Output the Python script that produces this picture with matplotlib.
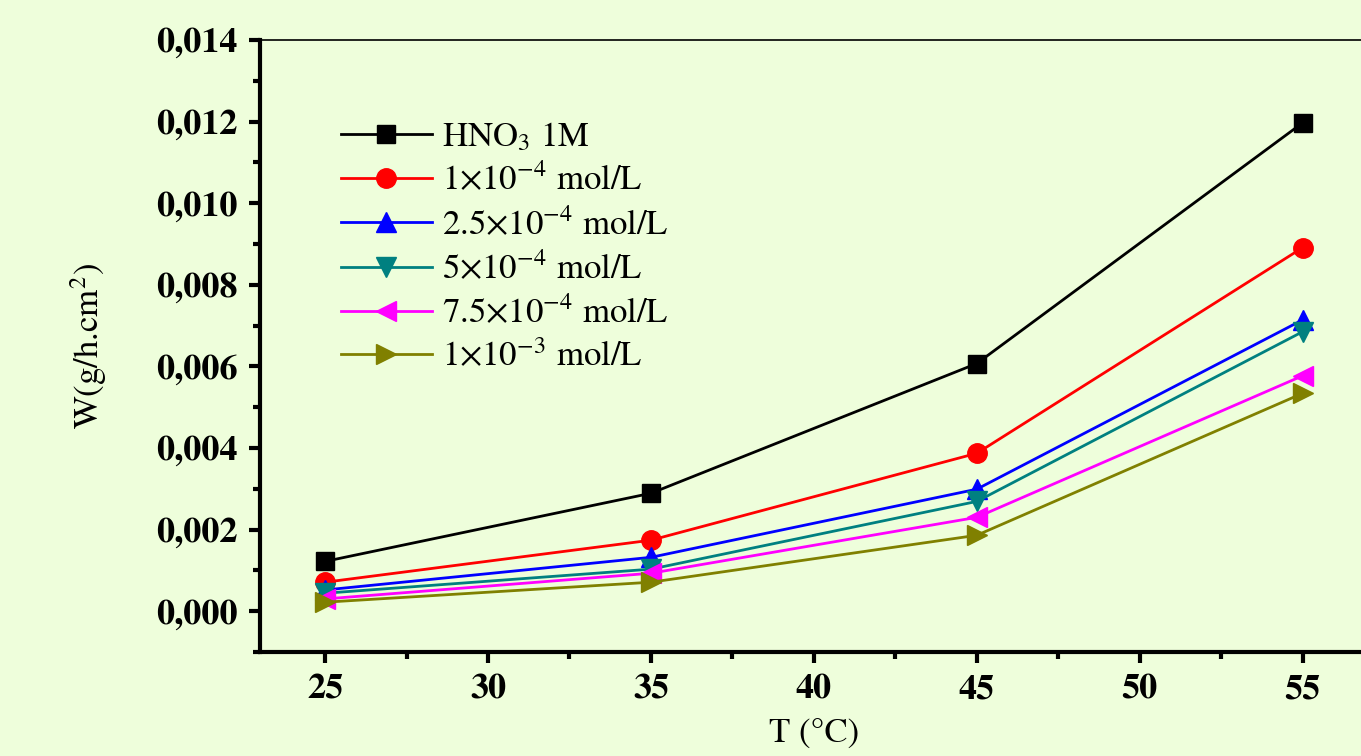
import matplotlib
matplotlib.use("Agg")
import matplotlib.pyplot as plt
from matplotlib.ticker import MultipleLocator, FuncFormatter

plt.rcParams['font.family'] = ['STIXGeneral', 'DejaVu Serif']
plt.rcParams['mathtext.fontset'] = 'stix'

temps = [25, 35, 45, 55]
hno3 = [0.00122, 0.00289, 0.00607, 0.01197]
c1e4 = [0.00071, 0.00174, 0.00387, 0.00891]
c25e4 = [0.00052, 0.00132, 0.00299, 0.00714]
c5e4 = [0.00044, 0.00103, 0.00269, 0.00685]
c75e4 = [0.00030, 0.00093, 0.00230, 0.00577]
c1e3 = [0.00022, 0.00071, 0.00186, 0.00534]

labels = ['HNO$_3$ 1M', r'1$\times$10$^{-4}$ mol/L', r'2.5$\times$10$^{-4}$ mol/L',
          r'5$\times$10$^{-4}$ mol/L', r'7.5$\times$10$^{-4}$ mol/L', r'1$\times$10$^{-3}$ mol/L']
series = [hno3, c1e4, c25e4, c5e4, c75e4, c1e3]
colors = ['black', '#ff0000', '#0000ff', '#008080', '#ff00ff', '#808000']
markers = ['s', 'o', '^', 'v', '<', '>']
msizes = [13, 14, 15, 15, 15, 15]

bg = '#eefedb'
fig = plt.figure(figsize=(13.61, 7.56), dpi=100, facecolor=bg)
ax = fig.add_axes([0.191, 0.1376, 0.814, 0.8095])
ax.set_facecolor(bg)

for y, lab, c, m, ms in zip(series, labels, colors, markers, msizes):
    ax.plot(temps, y, color=c, marker=m, markersize=ms, linewidth=2, label=lab)

ax.set_xlim(23, 57)
ax.set_ylim(-0.001, 0.014)
ax.xaxis.set_major_locator(MultipleLocator(5))
ax.xaxis.set_minor_locator(MultipleLocator(2.5))
ax.yaxis.set_major_locator(MultipleLocator(0.002))
ax.yaxis.set_minor_locator(MultipleLocator(0.001))
ax.yaxis.set_major_formatter(FuncFormatter(lambda v, p: f"{v:.3f}".replace('.', ',')))

for s in ['left', 'bottom']:
    ax.spines[s].set_linewidth(3)
ax.spines['top'].set_linewidth(1.2)
ax.spines['right'].set_visible(False)
ax.tick_params(which='major', direction='out', length=8, width=3, labelsize=26, pad=8)
ax.tick_params(which='minor', direction='out', length=5, width=3)
ax.tick_params(top=False, right=False, which='both')
for t in ax.get_xticklabels() + ax.get_yticklabels():
    t.set_fontweight('bold')

ax.set_xlabel('T (°C)', fontsize=25, labelpad=10)
ax.set_ylabel('W(g/h.cm$^2$)', fontsize=25, labelpad=34)

ax.legend(loc='upper left', bbox_to_anchor=(0.238, 0.862), bbox_transform=fig.transFigure,
          frameon=False, fontsize=25, handlelength=2.6, handletextpad=0.3,
          labelspacing=0.28, borderpad=0)

fig.savefig('out.png', dpi=100, facecolor=bg)
